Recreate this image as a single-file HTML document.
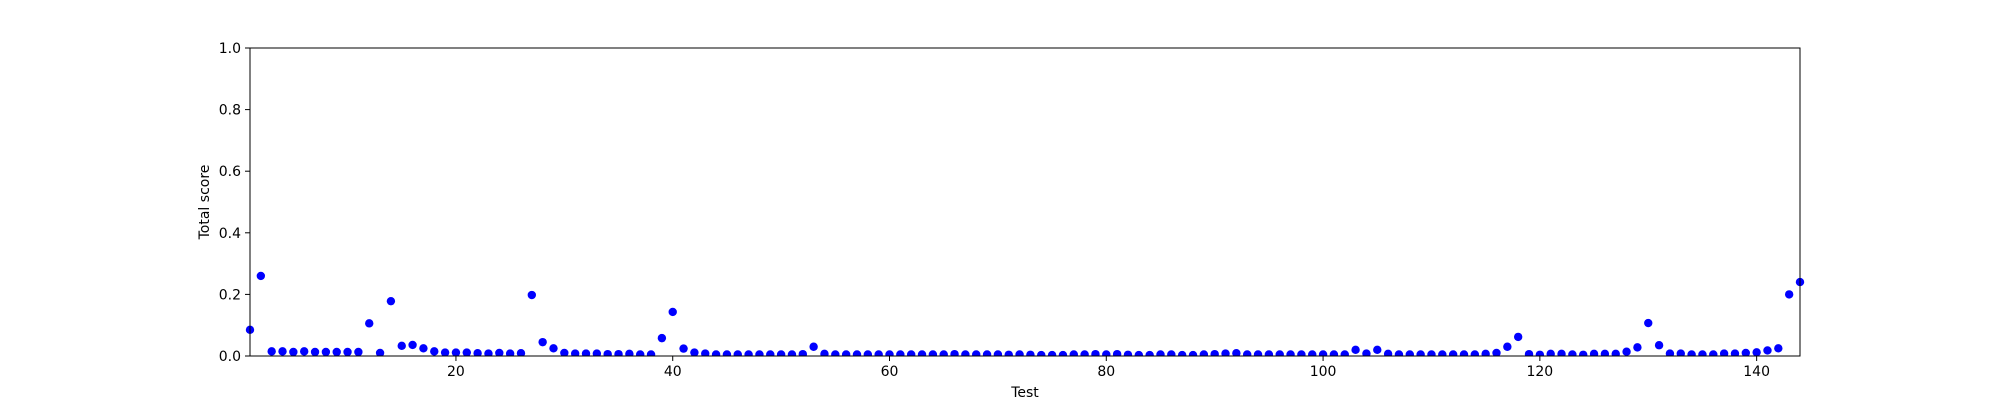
<!DOCTYPE html>
<html><head><meta charset="utf-8"><style>
html,body{margin:0;padding:0;background:#fff;}
svg{display:block;font-family:"DejaVu Sans","Liberation Sans",sans-serif;}
</style></head><body>
<svg id="chart" width="2000" height="400"></svg>
<script>
const tests = Array.from({length:144},(_,i)=>i+1);
const scores = [
0.085,0.26,0.015,0.015,0.013,0.015,0.013,0.013,0.013,0.013,0.013,0.106,0.01,0.178,0.033,0.036,0.025,0.015,0.011,0.011,0.011,0.009,0.008,0.01,0.008,0.009,0.198,0.045,0.025,0.01,0.008,0.008,0.008,0.006,0.006,0.007,0.005,0.005,0.058,0.143,0.024,0.011,0.008,0.005,0.005,0.005,0.005,0.005,0.005,0.005,0.005,0.006,0.03,0.007,0.005,0.005,0.005,0.005,0.005,0.005,0.005,0.005,0.005,0.005,0.005,0.006,0.005,0.005,0.005,0.005,0.004,0.005,0.004,0.003,0.003,0.003,0.005,0.005,0.006,0.005,0.006,0.004,0.003,0.003,0.005,0.005,0.003,0.003,0.005,0.006,0.008,0.009,0.005,0.005,0.005,0.005,0.005,0.005,0.005,0.005,0.005,0.005,0.02,0.008,0.02,0.007,0.005,0.005,0.005,0.005,0.005,0.005,0.005,0.005,0.007,0.01,0.03,0.062,0.006,0.004,0.007,0.007,0.005,0.004,0.007,0.007,0.007,0.014,0.028,0.107,0.035,0.008,0.008,0.005,0.005,0.005,0.008,0.008,0.01,0.012,0.018,0.025,0.2,0.24];
const xTicks = [20,40,60,80,100,120,140];
const yTicks = [0.0,0.2,0.4,0.6,0.8,1.0];
const L=250,R=1800,T=48,B=356, xmin=1,xmax=144;
const xs=v=>L+(v-xmin)/(xmax-xmin)*(R-L);
const ys=v=>B-v*(B-T);
const svg=document.getElementById('chart');
const NS='http://www.w3.org/2000/svg';
function mk(tag,attrs,parent){const e=document.createElementNS(NS,tag);for(const k in attrs)e.setAttribute(k,attrs[k]);(parent||svg).appendChild(e);return e;}
const pts=mk('g',{'clip-path':'url(#clip)'});


const cp=mk('clipPath',{id:'clip'});mk('rect',{x:L-5,y:T,width:R-L+10,height:B-T},cp);
tests.forEach((t,i)=>{const c=mk('circle',{cx:xs(t),cy:ys(scores[i]),r:4.2,fill:'#0000ff'},pts);

});
const frame=mk('rect',{x:L,y:T,width:R-L,height:B-T,fill:'none',stroke:'#000','stroke-width':1});


xTicks.forEach(v=>{const x=xs(v);mk('line',{x1:x,y1:B,x2:x,y2:B+5,stroke:'#000'});
const t=mk('text',{x:x,y:B+20,'text-anchor':'middle','font-size':14,fill:'#000'});t.textContent=v;

});
yTicks.forEach(v=>{const y=ys(v);mk('line',{x1:L-5,y1:y,x2:L,y2:y,stroke:'#000'});
const t=mk('text',{x:L-9,y:y+5,'text-anchor':'end','font-size':14,fill:'#000'});t.textContent=v.toFixed(1);

});
const xl=mk('text',{x:(L+R)/2,y:397,'text-anchor':'middle','font-size':14,fill:'#000'});xl.textContent='Test';


const yl=mk('text',{x:0,y:0,'text-anchor':'middle','font-size':14,fill:'#000',transform:`translate(209,${(T+B)/2}) rotate(-90)`});yl.textContent='Total score';


</script>
</body></html>
